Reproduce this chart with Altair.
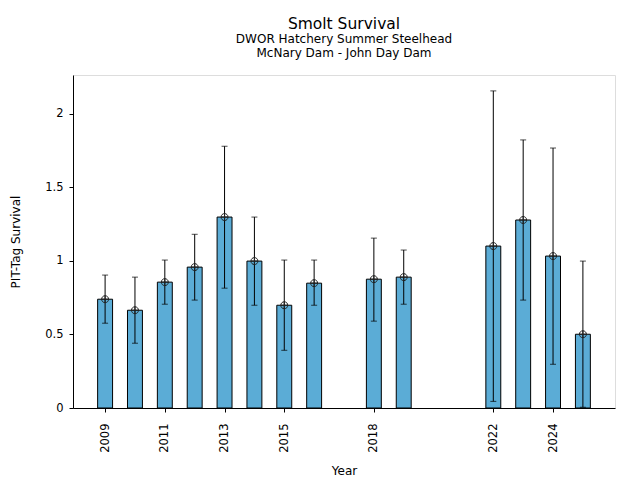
import altair as alt
import pandas as pd

years = [2009, 2010, 2011, 2012, 2013, 2014, 2015, 2016, 2018, 2019, 2022, 2023, 2024, 2025]
survival = [0.739, 0.664, 0.855, 0.957, 1.297, 0.998, 0.698, 0.848, 0.875, 0.889, 1.100, 1.277, 1.032, 0.501]
lower = [0.576, 0.440, 0.705, 0.733, 0.814, 0.698, 0.392, 0.698, 0.590, 0.705, 0.045, 0.733, 0.297, 0.005]
upper = [0.903, 0.889, 1.005, 1.180, 1.778, 1.297, 1.005, 1.005, 1.154, 1.073, 2.154, 1.821, 1.766, 0.998]
tick_years = [2009, 2011, 2013, 2015, 2018, 2022, 2024]
y_ticks = [0, 0.5, 1, 1.5, 2]

df = pd.DataFrame({"year": years, "survival": survival, "lower": lower, "upper": upper})

xscale = alt.Scale(domain=[2007.925, 2026.075], nice=False, zero=False)
yscale = alt.Scale(domain=[0, 2.262], nice=False)

xaxis = alt.Axis(values=tick_years, format="d", labelAngle=270, labelAlign="right",
                 labelBaseline="middle", grid=False, title="Year", tickSize=4,
                 labelPadding=11, titlePadding=13, domainColor="black", tickColor="black",
                 labelColor="black", titleColor="black", labelFontSize=11.5, titleFontSize=12,
                 titleFontWeight="normal", labelFont="DejaVu Sans", titleFont="DejaVu Sans")
yaxis = alt.Axis(values=y_ticks, labelExpr="format(datum.value, '~g')", grid=False,
                 title="PIT-Tag Survival", tickSize=4, labelPadding=6, titlePadding=22,
                 domainColor="black", tickColor="black", labelColor="black", titleColor="black",
                 labelFontSize=11.5, titleFontSize=12, titleFontWeight="normal",
                 labelFont="DejaVu Sans", titleFont="DejaVu Sans")

base = alt.Chart(df).transform_calculate(
    x0="datum.year - 0.25", x1="datum.year + 0.25"
)

bars = base.mark_bar(color="#5BACD6", stroke="black", strokeWidth=1).encode(
    x=alt.X("x0:Q", scale=xscale, axis=xaxis),
    x2="x1:Q",
    y=alt.Y("survival:Q", scale=yscale, axis=yaxis),
    y2=alt.datum(0),
)

rules = base.mark_rule(color="black", strokeWidth=1).encode(
    x=alt.X("year:Q", scale=xscale),
    y=alt.Y("lower:Q", scale=yscale),
    y2="upper:Q",
)

cap_lo = base.mark_tick(color="black", orient="horizontal", size=6, thickness=1).encode(
    x=alt.X("year:Q", scale=xscale), y=alt.Y("lower:Q", scale=yscale)
)
cap_hi = base.mark_tick(color="black", orient="horizontal", size=6, thickness=1).encode(
    x=alt.X("year:Q", scale=xscale), y=alt.Y("upper:Q", scale=yscale)
)

marker_path = "M1,0A1,1,0,1,1,-1,0A1,1,0,1,1,1,0Z M-1,0L1,0 M0,-1L0,1"
points = base.mark_point(shape=marker_path, size=49, filled=False, stroke="#222222",
                         strokeWidth=1, opacity=1).encode(
    x=alt.X("year:Q", scale=xscale), y=alt.Y("survival:Q", scale=yscale)
)

chart = alt.layer(bars, rules, cap_lo, cap_hi, points).properties(
    width=542, height=333,
    autosize=alt.AutoSizeParams(type="none"),
    padding={"left": 65, "top": 67, "right": 17, "bottom": 70},
    title=alt.TitleParams(
        text="Smolt Survival",
        subtitle=["DWOR Hatchery Summer Steelhead", "McNary Dam - John Day Dam"],
        anchor="middle", fontSize=15.5, fontWeight="normal", font="DejaVu Sans",
        subtitleFont="DejaVu Sans", subtitleFontSize=12, subtitleColor="black",
        subtitleLineHeight=14,
        color="black", subtitlePadding=2, offset=16,
    ),
).configure_view(stroke=None, fill="white").configure(background="white")

chart.save("out.html", embed_options={"renderer": "svg", "actions": False})
